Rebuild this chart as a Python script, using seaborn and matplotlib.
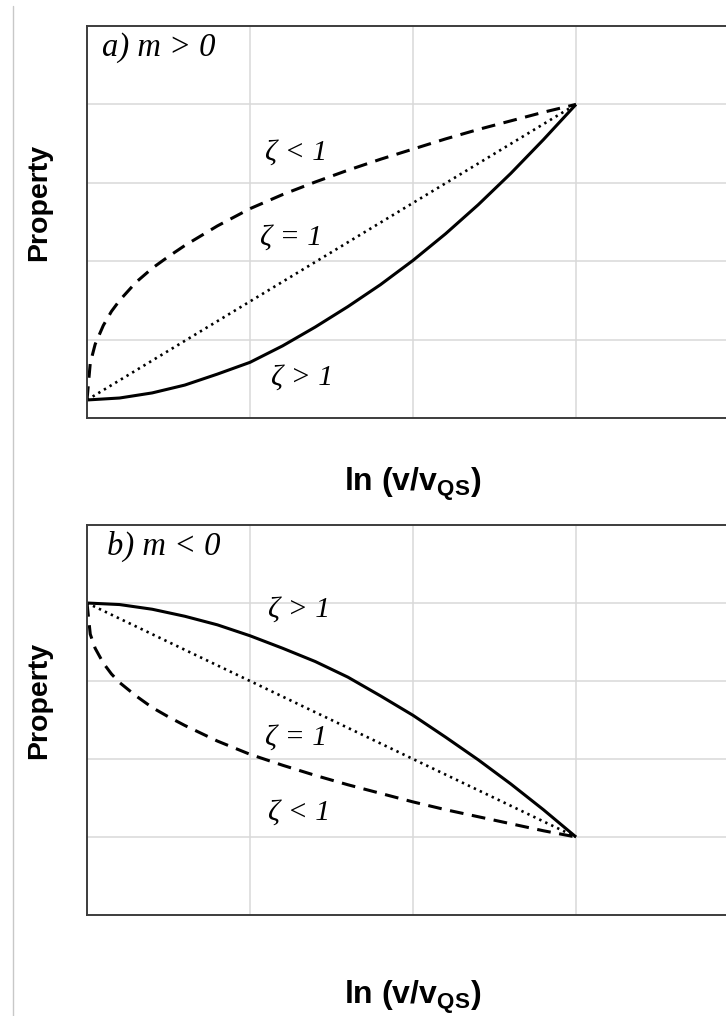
import numpy as np
import pandas as pd
import seaborn as sns
import matplotlib
matplotlib.use("Agg")
import matplotlib.pyplot as plt
from matplotlib.lines import Line2D

# ---- data ----
x_curve = [0, 0.02, 0.05, 0.1, 0.15, 0.2, 0.3, 0.4, 0.5, 0.6, 0.8, 1.0, 1.2, 1.4,
           1.6, 1.8, 2.0, 2.2, 2.4, 2.6, 2.8, 3.0]
x_step = [0, 0.2, 0.4, 0.6, 0.8, 1.0, 1.2, 1.4, 1.6, 1.8, 2.0, 2.2, 2.4, 2.6, 2.8, 3.0]
x_lin = [0, 3]

# panel a (m > 0)
a_lt1 = [0.23, 0.70, 0.94, 1.18, 1.36, 1.50, 1.73, 1.91, 2.06, 2.20, 2.45, 2.67, 2.85,
         3.01, 3.16, 3.30, 3.43, 3.56, 3.68, 3.79, 3.90, 4.0]
a_gt1 = [0.23, 0.255, 0.32, 0.42, 0.56, 0.71, 0.92, 1.16, 1.42, 1.70, 2.01, 2.35,
         2.72, 3.12, 3.55, 4.0]
a_eq1 = [0.23, 4.0]

# panel b (m < 0)
b_lt1 = [4.0, 3.60, 3.42, 3.23, 3.09, 2.98, 2.81, 2.66, 2.54, 2.43, 2.23, 2.06, 1.92,
         1.79, 1.67, 1.56, 1.45, 1.35, 1.26, 1.17, 1.08, 1.0]
b_gt1 = [4.0, 3.98, 3.92, 3.83, 3.72, 3.58, 3.42, 3.25, 3.05, 2.81, 2.56, 2.28,
         1.99, 1.68, 1.35, 1.0]
b_eq1 = [4.0, 1.0]

panel_titles = ["a) m > 0", "b) m < 0"]
zeta_labels = ["ζ < 1", "ζ = 1", "ζ > 1"]
xlabel = "ln (v/v$_{\\mathbf{QS}}$)"
ylabel = "Property"

sns.set_theme(style="white")
plt.rcParams['font.family'] = ['Liberation Sans', 'DejaVu Sans']
plt.rcParams['mathtext.fontset'] = 'custom'
plt.rcParams['mathtext.rm'] = 'Liberation Sans'
plt.rcParams['mathtext.bf'] = 'Liberation Sans:bold'
plt.rcParams['text.color'] = 'black'
plt.rcParams['axes.labelcolor'] = 'black'

fig = plt.figure(figsize=(7.26, 10.16), dpi=100)
W, H = 726, 1016

def px_axes(l, t, r, b):
    return [l / W, 1 - b / H, (r - l) / W, (b - t) / H]

ax1 = fig.add_axes(px_axes(87, 26, 739, 418))
ax2 = fig.add_axes(px_axes(87, 525, 739, 915))

grid_c = "#d9d9d9"
spine_c = "#3c3c3c"
serif = ['Liberation Serif', 'DejaVu Serif']

def style(ax, xlab_y):
    ax.set_xlim(0, 4)
    ax.set_ylim(0, 5)
    ax.set_xticks([1, 2, 3])
    ax.set_yticks([1, 2, 3, 4])
    ax.grid(True, color=grid_c, lw=1.1)
    ax.tick_params(length=0, labelbottom=False, labelleft=False)
    for s in ax.spines.values():
        s.set_color(spine_c)
        s.set_linewidth(1.4)
    ax.set_xlabel(xlabel, fontsize=23, fontweight='bold', color='black')
    ax.set_ylabel(ylabel, fontsize=20.5, fontweight='bold', color='black')
    ax.xaxis.set_label_coords(0.5, xlab_y)
    ax.yaxis.set_label_coords(-0.054, 0.551)

def draw(ax, xd, yd, lw, dashes=None):
    df = pd.DataFrame({"x": xd, "y": yd})
    sns.lineplot(data=df, x="x", y="y", ax=ax, color="black", lw=lw, sort=False)
    line = ax.lines[-1]
    if dashes is not None:
        line.set_dashes(dashes)
    line.set_solid_capstyle('butt')
    line.set_solid_joinstyle('round')
    return line

# panel a
draw(ax1, x_curve, a_lt1, 2.2, dashes=(4.5, 2.8))
draw(ax1, x_step, a_gt1, 2.2)
draw(ax1, x_lin, a_eq1, 1.9, dashes=(0.9, 1.6))
# panel b
draw(ax2, x_curve, b_lt1, 2.2, dashes=(4.5, 2.8))
draw(ax2, x_step, b_gt1, 2.2)
draw(ax2, x_lin, b_eq1, 1.9, dashes=(0.9, 1.6))

style(ax1, -0.1224)
style(ax2, -0.163)

tfs = 23.5
zfs = 21.5
tk = dict(style='italic', family=serif, va='center', color='black')
ax1.text(0.09, 4.72, panel_titles[0], fontsize=tfs, **tk)
ax1.text(1.09, 3.38, zeta_labels[0], fontsize=zfs, **tk)
ax1.text(1.06, 2.30, zeta_labels[1], fontsize=zfs, **tk)
ax1.text(1.13, 0.51, zeta_labels[2], fontsize=zfs, **tk)

ax2.text(0.12, 4.72, panel_titles[1], fontsize=tfs, **tk)
ax2.text(1.11, 3.91, zeta_labels[2], fontsize=zfs, **tk)
ax2.text(1.09, 2.27, zeta_labels[1], fontsize=zfs, **tk)
ax2.text(1.11, 1.31, zeta_labels[0], fontsize=zfs, **tk)

fig.add_artist(Line2D([13 / W, 13 / W], [0, 1 - 6 / H], transform=fig.transFigure,
                      color="#c8c8c8", lw=1.0))

fig.savefig("out.png", dpi=100)
